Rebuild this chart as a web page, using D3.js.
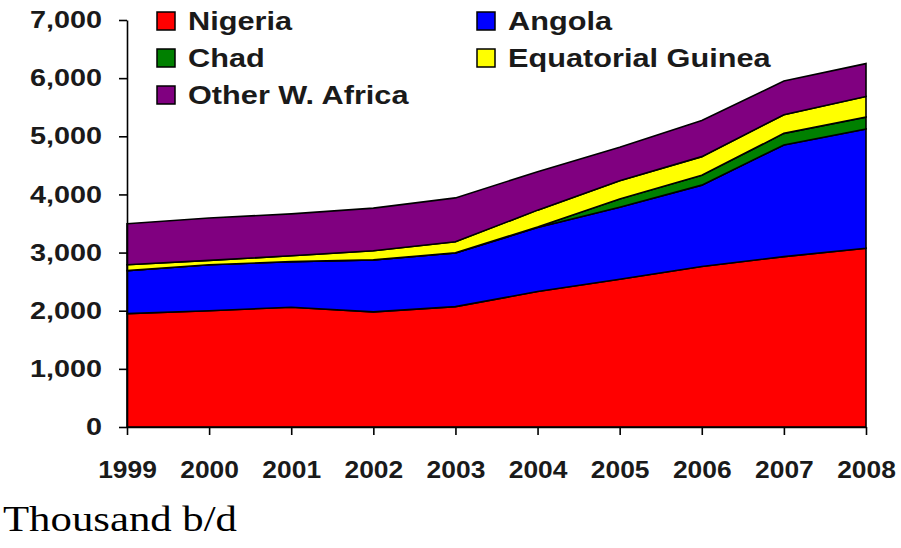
<!DOCTYPE html>
<html>
<head>
<meta charset="utf-8">
<script src="https://cdn.jsdelivr.net/npm/d3@7"></script>
<style>
	body { margin: 0; background: #fff; }
	svg { display: block; }
	.axis text { font-family: "Liberation Sans", Arial, sans-serif; font-weight: bold; fill: #1a1a1a; }
	.axis path, .axis line { stroke: #000; stroke-width: 1.6; }
</style>
</head>
<body>
<svg id="chart" width="901" height="548"></svg>
<script>
// thousand barrels per day
var years = [1999, 2000, 2001, 2002, 2003, 2004, 2005, 2006, 2007, 2008];
var nigeria = [1950, 2000, 2060, 1980, 2070, 2330, 2540, 2760, 2930, 3075];
var angola = [740, 790, 785, 895, 925, 1100, 1240, 1400, 1920, 2050];
var chad = [0, 0, 0, 0, 0, 10, 140, 170, 200, 205];
var eqGuinea = [100, 75, 100, 155, 190, 290, 315, 320, 320, 355];
var otherWA = [705, 730, 720, 735, 755, 660, 575, 620, 580, 565];
var yTicks = [0, 1000, 2000, 3000, 4000, 5000, 6000, 7000];

var seriesNames = ["Nigeria", "Angola", "Chad", "Equatorial Guinea", "Other W. Africa"];
var seriesColors = ["#ff0000", "#0000ff", "#008000", "#ffff00", "#800080"];
var legendOrder = [["Nigeria", "Angola"], ["Chad", "Equatorial Guinea"], ["Other W. Africa"]];

var svg = d3.select("#chart");

var x = d3.scaleLinear().domain([1999, 2008]).range([127, 866]);
var y = d3.scaleLinear().domain([0, 7000]).range([427, 20]);

var table = years.map(function(yr, i) {
	return {
		year: yr,
		"Nigeria": nigeria[i],
		"Angola": angola[i],
		"Chad": chad[i],
		"Equatorial Guinea": eqGuinea[i],
		"Other W. Africa": otherWA[i]
	};
});

var layers = d3.stack().keys(seriesNames)(table);

var area = d3.area()
	.x(function(d) { return x(d.data.year); })
	.y0(function(d) { return y(d[0]); })
	.y1(function(d) { return y(d[1]); });

svg.append("g").selectAll("path")
	.data(layers)
	.enter()
	.append("path")
	.attr("d", area)
	.attr("fill", function(d, i) { return seriesColors[i]; })
	.attr("stroke", "#000")
	.attr("stroke-width", 1.6)
	.attr("stroke-linejoin", "miter");

// stretch text a bit wider, the original is drawn with wide glyphs
function stretch(sel, k) {
	sel.each(function() {
		var w = this.getComputedTextLength();
		d3.select(this).attr("textLength", w * k).attr("lengthAdjust", "spacingAndGlyphs");
	});
}

var yAxis = svg.append("g")
	.attr("class", "axis")
	.attr("transform", "translate(127,0)")
	.call(d3.axisLeft(y).tickValues(yTicks).tickSize(8).tickSizeOuter(0).tickPadding(17).tickFormat(d3.format(",")));
yAxis.selectAll("text").style("font-size", "24px");
stretch(yAxis.selectAll("text"), 1.2);

var xAxis = svg.append("g")
	.attr("class", "axis")
	.attr("transform", "translate(0,427)")
	.call(d3.axisBottom(x).tickValues(years).tickSize(8).tickSizeOuter(0).tickPadding(26).tickFormat(d3.format("d")));
xAxis.selectAll("text").style("font-size", "24px");
stretch(xAxis.selectAll("text"), 1.1);

// legend
var legend = svg.append("g");
legendOrder.forEach(function(row, r) {
	row.forEach(function(name, c) {
		var gx = 157 + c * 320;
		var gy = 12 + r * 37;
		legend.append("rect")
			.attr("x", gx)
			.attr("y", gy)
			.attr("width", 18)
			.attr("height", 18)
			.attr("fill", seriesColors[seriesNames.indexOf(name)])
			.attr("stroke", "#000")
			.attr("stroke-width", 1.5);
		legend.append("text")
			.attr("x", gx + 31)
			.attr("y", gy + 18)
			.style("font-family", "'Liberation Sans', Arial, sans-serif")
			.style("font-weight", "bold")
			.style("font-size", "26px")
			.style("fill", "#1a1a1a")
			.text(name);
	});
});
stretch(legend.selectAll("text"), 1.18);

var unit = svg.append("text")
	.attr("x", 3)
	.attr("y", 531)
	.style("font-family", "'Liberation Serif', 'Times New Roman', serif")
	.style("font-size", "36px")
	.style("fill", "#000")
	.text("Thousand b/d");
unit.attr("textLength", 234).attr("lengthAdjust", "spacingAndGlyphs");
</script>
</body>
</html>
